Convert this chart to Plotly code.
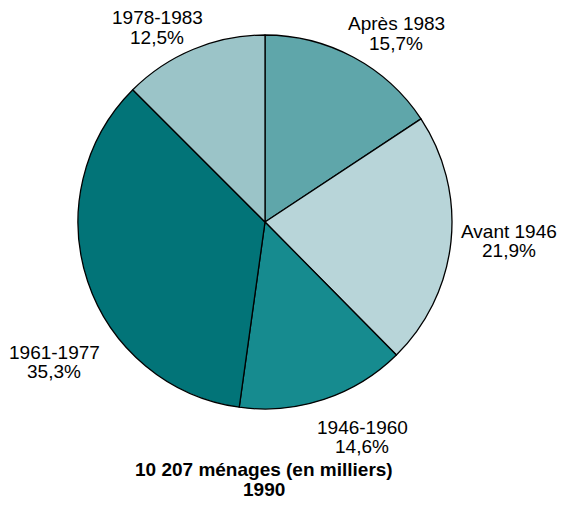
import plotly.graph_objects as go

# Ménages selon la période d'achèvement du logement, 1990
periodes = ["Après 1983", "Avant 1946", "1946-1960", "1961-1977", "1978-1983"]
parts = [15.7, 21.9, 14.6, 35.3, 12.5]
couleurs = ["#5fa6aa", "#b8d5d9", "#168b8f", "#027478", "#9bc4c8"]

titre_1 = "10 207 ménages (en milliers)"
titre_2 = "1990"

# la page ajoute une marge de 8 px autour de la figure
M = 8
W, H = 567 - 2 * M, 508 - 2 * M
police = "Liberation Sans, Arial, sans-serif"


def fx(px):
    return (px - M) / W


def fy(py):
    return 1 - (py - M) / H


# placement des étiquettes (centre de la 1re ligne, en pixels de la page)
pos_etiq = [(396, 24), (509, 231), (362, 427), (54, 352), (157, 18)]
interligne = 19.5

fig = go.Figure(go.Pie(
    labels=periodes,
    values=parts,
    sort=False,
    direction="clockwise",
    rotation=0,
    marker=dict(colors=couleurs, line=dict(color="#000000", width=1.3)),
    textinfo="none",
    domain=dict(x=[fx(78), fx(452)], y=[fy(409), fy(35)]),
    showlegend=False,
    hoverinfo="label+percent",
))

for nom, val, (px, py) in zip(periodes, parts, pos_etiq):
    pct = f"{val:.1f}".replace(".", ",") + "%"
    for k, txt in enumerate([nom, pct]):
        fig.add_annotation(
            text=txt, x=fx(px), y=fy(py + k * interligne),
            xref="paper", yref="paper", xanchor="center", yanchor="middle",
            showarrow=False, font=dict(family=police, size=19, color="#000000"),
        )

for k, txt in enumerate([titre_1, titre_2]):
    fig.add_annotation(
        text="<b>" + txt + "</b>", x=fx(264), y=fy(469.5 + k * interligne),
        xref="paper", yref="paper", xanchor="center", yanchor="middle",
        showarrow=False, font=dict(family=police, size=19, color="#000000"),
    )

fig.update_layout(
    width=W, height=H,
    margin=dict(l=0, r=0, t=0, b=0),
    paper_bgcolor="white",
    plot_bgcolor="white",
)

fig.write_html("out.html")
